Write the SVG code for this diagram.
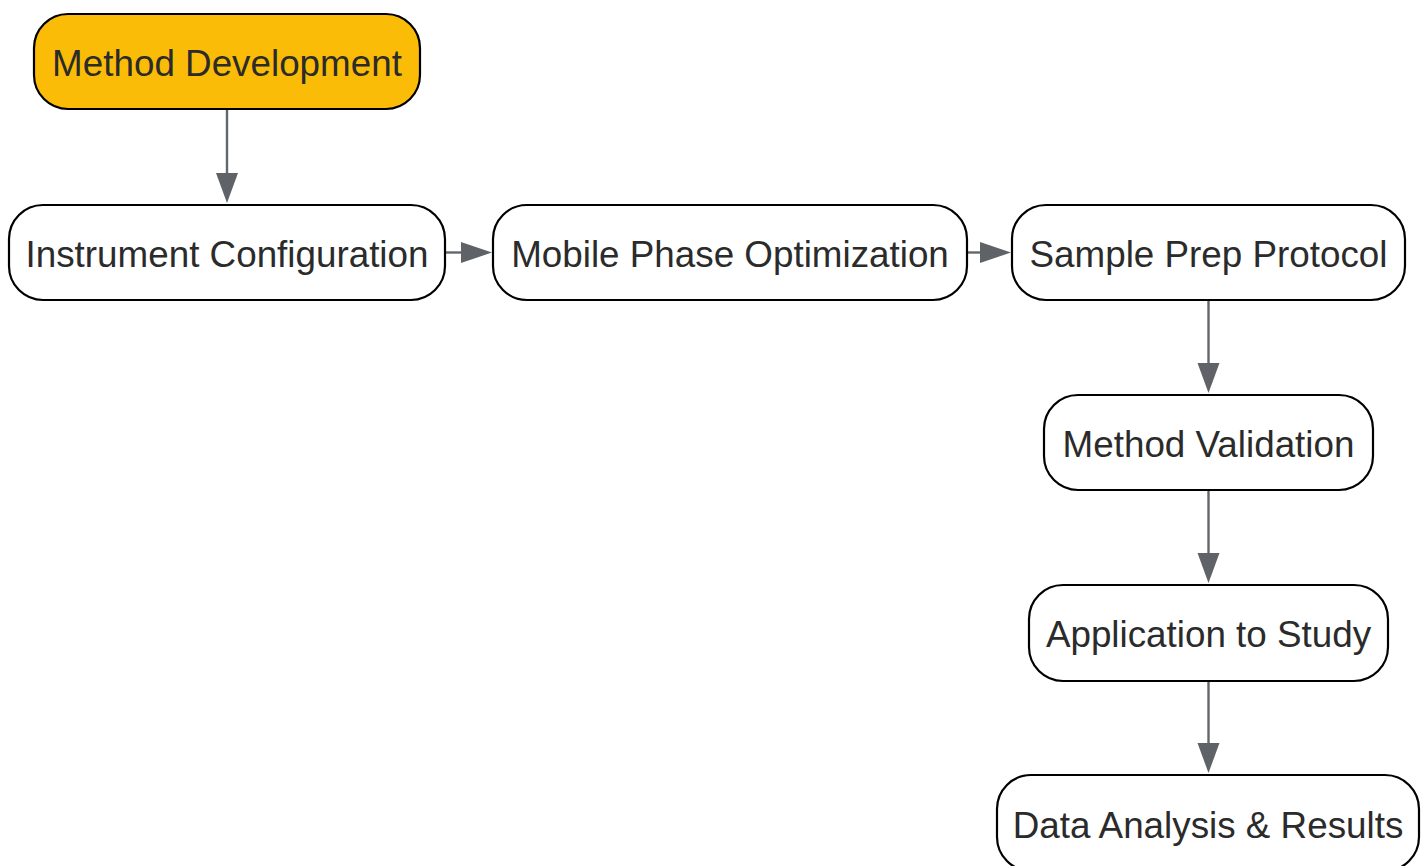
<svg xmlns="http://www.w3.org/2000/svg" width="1428" height="866" viewBox="0 0 1428 866">
<defs>
<style>
.n{fill:#ffffff;stroke:#000000;stroke-width:2.2}
.hl{fill:#fbbc07}
.t{font-family:"Liberation Sans",Arial,sans-serif;font-size:36.8px;fill:#2b2b2b;text-anchor:middle;dominant-baseline:central}
.c{stroke:#63666a;stroke-width:2.4;fill:none}
.h{fill:#5f6368}
</style>
</defs>
<rect width="1428" height="866" fill="#ffffff"/>
<g id="connectors">
<line class="c" x1="227" y1="109" x2="227" y2="174"/>
<polygon class="h" points="216,173 238,173 227,203"/>
<line class="c" x1="445" y1="252.5" x2="462" y2="252.5"/>
<polygon class="h" points="461,242 461,263 492,252.5"/>
<line class="c" x1="967" y1="252.5" x2="981" y2="252.5"/>
<polygon class="h" points="980,242 980,263 1011,252.5"/>
<line class="c" x1="1208.5" y1="300" x2="1208.5" y2="364"/>
<polygon class="h" points="1197.5,363 1219.5,363 1208.5,393"/>
<line class="c" x1="1208.5" y1="490" x2="1208.5" y2="554"/>
<polygon class="h" points="1197.5,553 1219.5,553 1208.5,583"/>
<line class="c" x1="1208.5" y1="681" x2="1208.5" y2="744"/>
<polygon class="h" points="1197.5,743 1219.5,743 1208.5,773"/>
</g>
<g id="n1"><rect class="n hl" x="34" y="14" width="386" height="95" rx="34"/><text class="t" x="227" y="63.5">Method Development</text></g>
<g id="n2"><rect class="n" x="9" y="205" width="436" height="95" rx="34"/><text class="t" x="227" y="254.5">Instrument Configuration</text></g>
<g id="n3"><rect class="n" x="493" y="205" width="474" height="95" rx="34"/><text class="t" x="730" y="254.5">Mobile Phase Optimization</text></g>
<g id="n4"><rect class="n" x="1012" y="205" width="393" height="95" rx="34"/><text class="t" x="1208.5" y="254.5">Sample Prep Protocol</text></g>
<g id="n5"><rect class="n" x="1044" y="395" width="329" height="95" rx="34"/><text class="t" x="1208.5" y="444.5">Method Validation</text></g>
<g id="n6"><rect class="n" x="1029" y="585" width="359" height="96" rx="34"/><text class="t" x="1208.5" y="634.5">Application to Study</text></g>
<g id="n7"><rect class="n" x="997" y="775" width="422" height="96" rx="34"/><text class="t" x="1208" y="825.5">Data Analysis &amp; Results</text></g>
</svg>
